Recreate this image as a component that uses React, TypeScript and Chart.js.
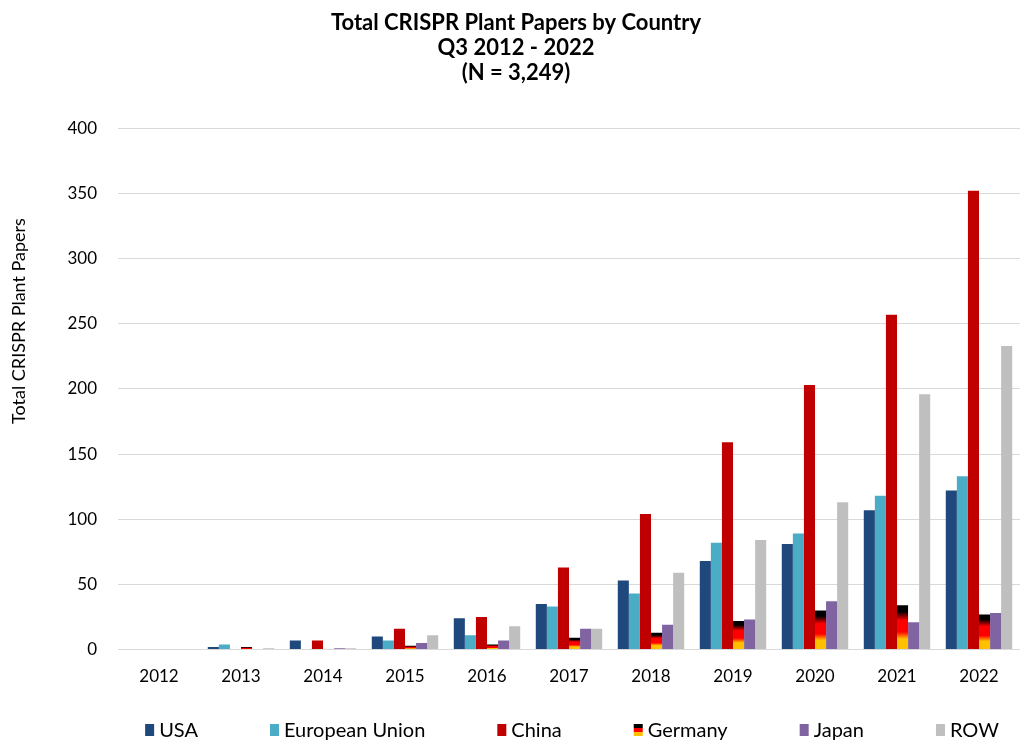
import React, { useEffect, useRef } from "react";
import { Chart, registerables } from "chart.js";

Chart.register(...registerables);

const years = ["2012", "2013", "2014", "2015", "2016", "2017", "2018", "2019", "2020", "2021", "2022"];
const usa = [0, 2, 7, 10, 24, 35, 53, 68, 81, 107, 122];
const eu = [0, 4, 0, 7, 11, 33, 43, 82, 89, 118, 133];
const china = [0, 0, 7, 16, 25, 63, 104, 159, 203, 257, 352];
const germany = [0, 2, 0, 3, 4, 9, 13, 22, 30, 34, 27];
const japan = [0, 0, 1, 5, 7, 16, 19, 23, 37, 21, 28];
const row = [0, 1, 1, 11, 18, 16, 59, 84, 113, 196, 233];

const titleLines = ["Total CRISPR Plant Papers by Country", "Q3 2012 - 2022", "(N = 3,249)"];
const yTitle = "Total CRISPR Plant Papers";

const FONT = "Lato, 'Noto Sans', sans-serif";

const germanyFill = (c: any) => {
  const chart = c.chart;
  const ys = chart.scales && chart.scales.y;
  if (!ys || c.type !== "data") return "#ff0000";
  const top = ys.getPixelForValue(c.raw);
  const base = ys.getPixelForValue(0);
  if (!isFinite(top) || !isFinite(base) || base - top < 0.5) return "#000000";
  const g = chart.ctx.createLinearGradient(0, top, 0, base);
  g.addColorStop(0, "#000000");
  g.addColorStop(0.14, "#000000");
  g.addColorStop(0.34, "#ff0000");
  g.addColorStop(0.6, "#ff0000");
  g.addColorStop(0.76, "#ffc000");
  g.addColorStop(1, "#ffc000");
  return g;
};

const yTitlePlugin = {
  id: "yTitleCustom",
  afterDraw(chart: any) {
    const ctx = chart.ctx;
    ctx.save();
    ctx.translate(19, 321);
    ctx.rotate(-Math.PI / 2);
    ctx.font = `18px ${FONT}`;
    ctx.fillStyle = "#000";
    ctx.textAlign = "center";
    ctx.textBaseline = "middle";
    ctx.fillText(yTitle, 0, 0);
    ctx.restore();
  },
};

const legendPlugin = {
  id: "customLegend",
  afterDraw(chart: any) {
    const ctx = chart.ctx;
    const ds = chart.data.datasets;
    ctx.save();
    ctx.font = `20px ${FONT}`;
    const boxW = 9, boxH = 12, gapText = 5, gap = 72;
    const widths = ds.map((d: any) => boxW + gapText + ctx.measureText(d.label).width);
    const total = widths.reduce((a: number, b: number) => a + b, 0) + gap * (ds.length - 1);
    const ca = chart.chartArea;
    let x = (ca.left + ca.right) / 2 + 3 - total / 2;
    const y = 730;
    ds.forEach((d: any, i: number) => {
      const by = y - boxH / 2;
      if (d.label === "Germany") {
        ctx.fillStyle = "#000000";
        ctx.fillRect(x, by, boxW, 4);
        ctx.fillStyle = "#ff0000";
        ctx.fillRect(x, by + 4, boxW, 4);
        ctx.fillStyle = "#ffc000";
        ctx.fillRect(x, by + 8, boxW, 4);
      } else {
        ctx.fillStyle = d.backgroundColor;
        ctx.fillRect(x, by, boxW, boxH);
      }
      ctx.fillStyle = "#000";
      ctx.textAlign = "left";
      ctx.textBaseline = "middle";
      ctx.fillText(d.label, x + boxW + gapText, y + 1);
      x += widths[i] + gap;
    });
    ctx.restore();
  },
};

export default function App() {
  const ref = useRef<HTMLCanvasElement | null>(null);
  useEffect(() => {
    if (!ref.current) return;
    const chart = new Chart(ref.current, {
      type: "bar",
      data: {
        labels: years,
        datasets: [
          { label: "USA", data: usa, backgroundColor: "#1f497d" },
          { label: "European Union", data: eu, backgroundColor: "#4bacc6" },
          { label: "China", data: china, backgroundColor: "#c00000" },
          { label: "Germany", data: germany, backgroundColor: germanyFill as any },
          { label: "Japan", data: japan, backgroundColor: "#8064a2" },
          { label: "ROW", data: row, backgroundColor: "#bfbfbf" },
        ],
      },
      options: {
        responsive: false,
        animation: false,
        devicePixelRatio: 1,
        layout: { padding: { left: 12, right: 0, top: 0, bottom: 36 } },
        datasets: { bar: { categoryPercentage: 0.81, barPercentage: 1.0, borderWidth: 0 } },
        plugins: {
          legend: { display: false },
          tooltip: { enabled: false },
          title: {
            display: true,
            text: titleLines,
            color: "#000",
            font: { family: FONT, size: 22, weight: "bold", lineHeight: 1.14 },
            padding: { top: 10, bottom: 43 },
          },
        },
        scales: {
          x: {
            grid: { display: false, drawTicks: false },
            border: { display: true, color: "#d9d9d9", width: 1 },
            ticks: { color: "#000", font: { family: FONT, size: 17 }, padding: 17, maxRotation: 0 },
          },
          y: {
            min: 0,
            max: 400,
            grid: { color: "#d9d9d9", drawTicks: false, lineWidth: 1 },
            border: { display: false },
            ticks: { stepSize: 50, color: "#000", font: { family: FONT, size: 17 }, padding: 21 },
            afterFit: (s: any) => {
              s.width = 106;
            },
          },
        },
      },
      plugins: [yTitlePlugin, legendPlugin],
    });
    return () => chart.destroy();
  }, []);
  return (
    <div style={{ position: "fixed", left: 0, top: 0, width: 1020, height: 740, background: "#fff" }}>
      <canvas ref={ref} width={1020} height={740} style={{ width: 1020, height: 740, display: "block" }} />
    </div>
  );
}
